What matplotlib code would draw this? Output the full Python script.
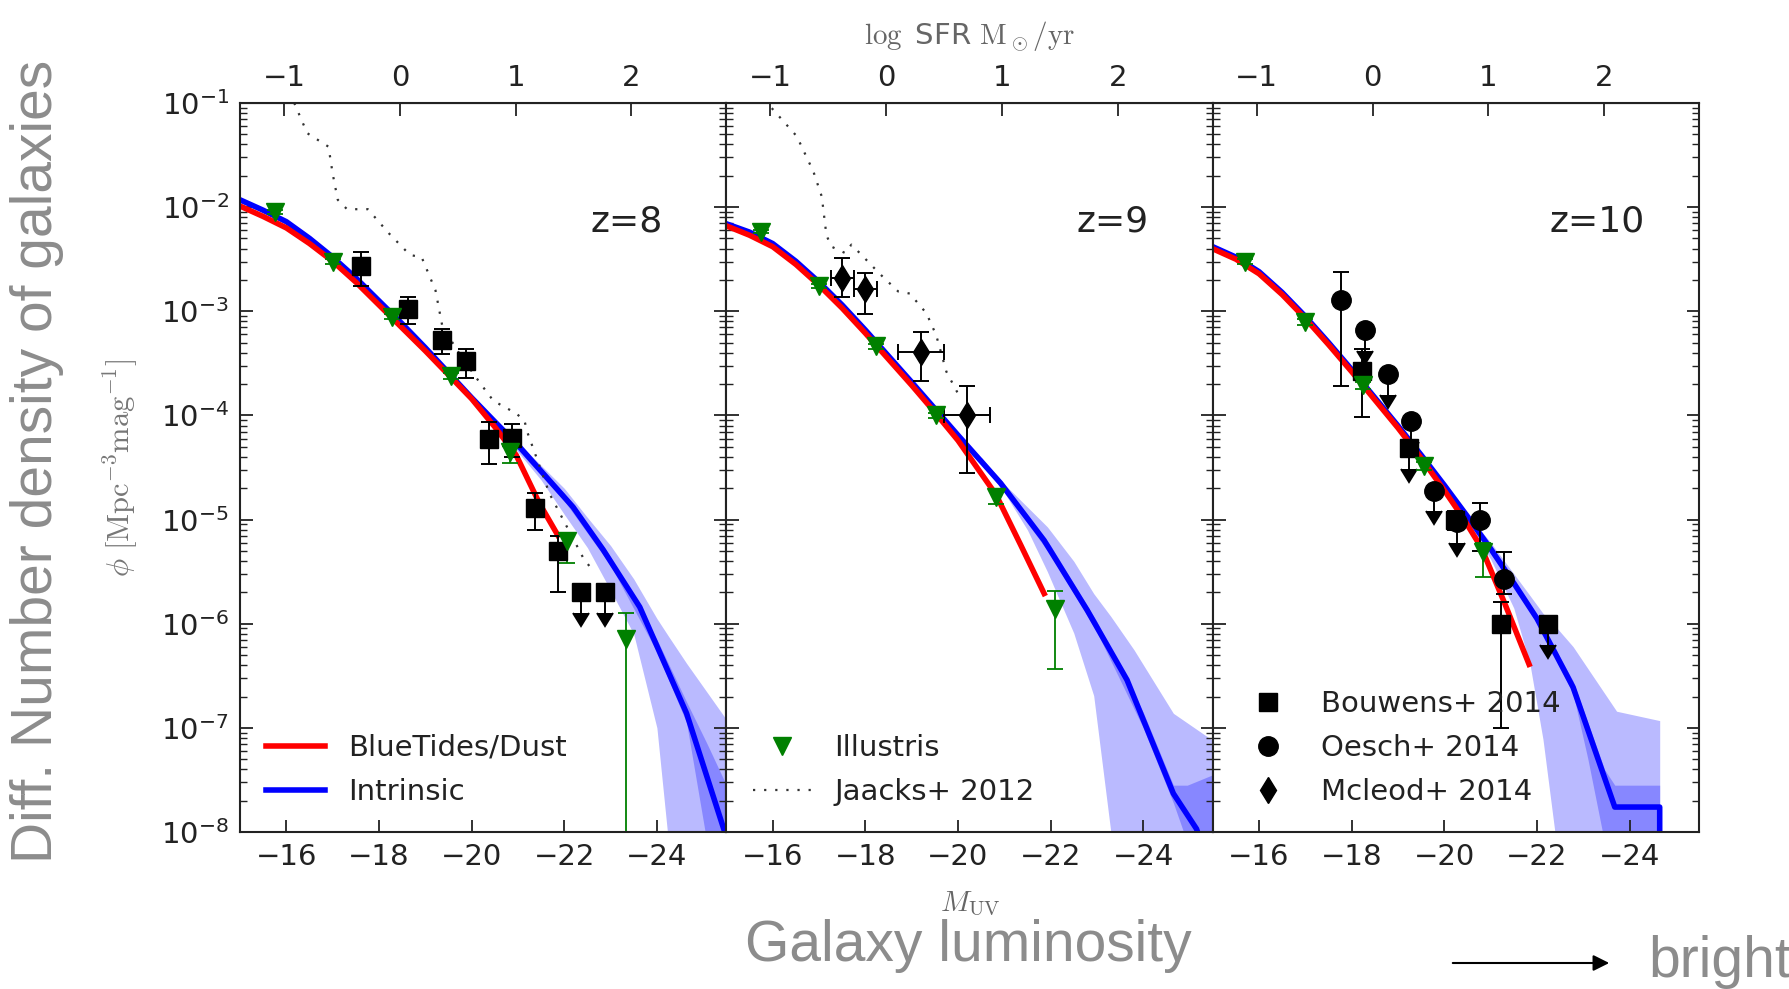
import numpy as np
import matplotlib
matplotlib.use('Agg')
import matplotlib.pyplot as plt
from matplotlib.lines import Line2D
from matplotlib.patches import FancyArrowPatch

plt.rcParams['mathtext.fontset'] = 'cm'
plt.rcParams['font.family'] = 'DejaVu Sans'

# ---------------- z = 8 ----------------
# model curves, log10(phi [Mpc^-3 mag^-1])
intr_m_z8 = [-15.0, -15.5, -16.0, -16.5, -17.0, -17.5, -18.0, -18.5, -19.0, -19.5, -20.0, -20.5,
             -21.03, -22.19, -22.84, -23.63, -24.64, -25.45]
intr_lp_z8 = [-1.93, -2.03, -2.14, -2.30, -2.48, -2.68, -2.90, -3.12, -3.35, -3.59, -3.83, -4.06,
              -4.30, -4.88, -5.29, -5.84, -6.86, -7.98]
dust_m_z8 = [-15.0, -15.5, -16.0, -16.5, -17.0, -17.5, -18.0, -18.5, -19.0, -19.5, -20.0, -20.5,
             -20.96, -21.47, -21.86]
dust_lp_z8 = [-1.99, -2.09, -2.20, -2.35, -2.52, -2.72, -2.94, -3.16, -3.38, -3.61, -3.84, -4.11,
              -4.38, -4.85, -5.15]
band_m_z8 = [-20.5, -21.0, -21.5, -22.0, -22.5, -23.0, -23.5, -24.0, -24.25, -24.64, -25.5]
band_hi_z8 = [-4.03, -4.26, -4.48, -4.70, -4.98, -5.25, -5.57, -5.95, -6.12, -6.38, -6.92]
band_lo_z8 = [-4.10, -4.35, -4.62, -4.95, -5.27, -5.68, -6.10, -7.00, -8.10, -9.0, -9.0]
inner_m_z8 = [-20.5, -21.0, -22.0, -23.0, -24.0, -24.64, -25.08, -25.5]
inner_hi_z8 = [-4.03, -4.27, -4.75, -5.36, -6.15, -6.75, -7.15, -7.55]
inner_lo_z8 = [-4.09, -4.33, -4.82, -5.44, -6.27, -6.95, -8.10, -9.0]
# Jaacks+ 2012
jaa_m_z8 = [-16.17, -16.45, -16.91, -17.0, -17.11, -17.31, -17.76, -18.21, -18.67, -18.92, -19.22,
            -19.37, -19.8, -20.2, -20.47, -20.96, -21.14, -21.21, -21.68, -22.40, -22.58]
jaa_lp_z8 = [-1.0, -1.29, -1.42, -1.68, -1.93, -2.02, -2.02, -2.25, -2.46, -2.48, -2.80,
             -3.15, -3.45, -3.70, -3.86, -3.98, -4.05, -4.17, -4.75, -5.36, -5.47]
# Illustris
ill_m_z8 = [-15.75, -17.0, -18.27, -19.55, -20.82, -22.06, -23.34]
ill_phi_z8 = [8.9e-3, 3.0e-3, 8.9e-4, 2.4e-4, 4.5e-5, 6.2e-6, 7.2e-7]
ill_elo_z8 = [4e-4, 1.5e-4, 5e-5, 1.5e-5, 1.0e-5, 2.4e-6, 7.2e-7]
ill_ehi_z8 = [4e-4, 1.5e-4, 5e-5, 1.5e-5, 0.6e-5, 1.2e-6, 5.4e-7]
# Bouwens+ 2014
bou_m_z8 = [-17.62, -18.62, -19.37, -19.87, -20.37, -20.87, -21.37, -21.87]
bou_phi_z8 = [2.74e-3, 1.06e-3, 5.33e-4, 3.31e-4, 6.0e-5, 6.1e-5, 1.3e-5, 5.0e-6]
bou_elo_z8 = [1.0e-3, 0.3e-3, 0.14e-3, 0.10e-3, 2.6e-5, 2.1e-5, 0.5e-5, 3.0e-6]
bou_ehi_z8 = [1.0e-3, 0.3e-3, 0.14e-3, 0.10e-3, 2.6e-5, 2.1e-5, 0.5e-5, 2.0e-6]
bou_ul_m_z8 = [-22.37, -22.87]
bou_ul_phi_z8 = [2.0e-6, 2.0e-6]

# ---------------- z = 9 ----------------
intr_m_z9 = [-15.0, -15.5, -16.0, -16.5, -17.0, -17.5, -18.0, -18.5, -19.0, -19.53, -20.0, -20.28,
             -20.92, -21.86, -22.79, -23.65, -24.65, -25.15, -25.4]
intr_lp_z9 = [-2.16, -2.24, -2.35, -2.52, -2.72, -2.94, -3.18, -3.43, -3.68, -3.95, -4.19, -4.33,
              -4.65, -5.20, -5.87, -6.54, -7.63, -7.97, -8.3]
dust_m_z9 = [-15.0, -15.5, -16.0, -16.5, -17.0, -17.5, -18.0, -18.5, -19.0, -19.5, -20.0, -20.82,
             -21.35, -21.86]
dust_lp_z9 = [-2.18, -2.27, -2.38, -2.55, -2.75, -2.97, -3.21, -3.46, -3.71, -3.97, -4.24, -4.76,
              -5.24, -5.71]
band_m_z9 = [-20.5, -21.0, -21.5, -21.93, -22.5, -22.93, -23.3, -23.8, -24.65, -25.5]
band_hi_z9 = [-4.40, -4.66, -4.88, -5.07, -5.40, -5.71, -5.93, -6.25, -6.86, -7.12]
band_lo_z9 = [-4.45, -4.74, -5.10, -5.50, -6.09, -6.69, -8.0, -9.0, -9.0, -9.0]
inner_m_z9 = [-20.5, -21.0, -22.0, -23.0, -24.0, -24.65, -24.95, -25.5]
inner_hi_z9 = [-4.41, -4.67, -5.25, -5.98, -6.85, -7.55, -7.55, -7.45]
inner_lo_z9 = [-4.47, -4.73, -5.34, -6.08, -7.0, -7.72, -8.10, -9.0]
jaa_m_z9 = [-15.98, -16.52, -16.88, -17.06, -17.16, -17.27, -17.56, -17.70, -17.92, -18.31,
            -18.71, -18.96, -19.32, -19.53, -19.75, -20.0]
jaa_lp_z9 = [-1.05, -1.32, -1.66, -1.90, -2.27, -2.38, -2.44, -2.36, -2.46, -2.64,
             -2.81, -2.83, -3.02, -3.23, -3.58, -3.79]
ill_m_z9 = [-15.75, -16.99, -18.24, -19.53, -20.82, -22.09]
ill_phi_z9 = [5.8e-3, 1.74e-3, 4.6e-4, 1.0e-4, 1.66e-5, 1.38e-6]
ill_elo_z9 = [2e-4, 8e-5, 2.5e-5, 6e-6, 2.5e-6, 1.01e-6]
ill_ehi_z9 = [2e-4, 8e-5, 2.5e-5, 6e-6, 2.5e-6, 0.66e-6]
# Mcleod+ 2014
mcl_m_z9 = [-17.5, -18.0, -19.2, -20.2]
mcl_dm_z9 = [0.25, 0.25, 0.5, 0.5]
mcl_phi_z9 = [2.1e-3, 1.62e-3, 4.1e-4, 1.0e-4]
mcl_elo_z9 = [0.72e-3, 0.67e-3, 1.96e-4, 0.72e-4]
mcl_ehi_z9 = [1.14e-3, 0.72e-3, 2.2e-4, 0.9e-4]

# ---------------- z = 10 ----------------
intr_m_z10 = [-15.0, -15.5, -16.0, -16.5, -17.0, -17.5, -18.0, -18.5, -19.0, -19.5, -20.0, -20.5,
              -21.0, -21.5, -22.0, -22.78, -23.68, -24.65, -24.65]
intr_lp_z10 = [-2.38, -2.48, -2.62, -2.82, -3.05, -3.30, -3.56, -3.83, -4.10, -4.38, -4.67, -4.97,
               -5.28, -5.61, -5.95, -6.61, -7.76, -7.76, -9.5]
dust_m_z10 = [-15.0, -15.5, -16.0, -16.5, -17.0, -17.5, -18.0, -18.5, -19.0, -19.5, -20.0, -20.4,
              -20.8, -21.3, -21.83]
dust_lp_z10 = [-2.40, -2.50, -2.64, -2.84, -3.07, -3.32, -3.58, -3.85, -4.12, -4.41, -4.72, -4.98,
               -5.27, -5.80, -6.39]
band_m_z10 = [-20.5, -21.0, -21.5, -21.85, -22.13, -22.39, -22.78, -23.72, -24.65]
band_hi_z10 = [-4.95, -5.22, -5.52, -5.73, -5.90, -6.02, -6.22, -6.84, -6.93]
band_lo_z10 = [-5.02, -5.38, -5.85, -6.39, -7.11, -8.01, -9.0, -9.0, -9.0]
inner_m_z10 = [-20.5, -21.0, -22.0, -22.78, -23.1, -23.46, -23.68, -24.65]
inner_hi_z10 = [-4.94, -5.25, -5.92, -6.55, -6.95, -7.40, -7.55, -7.55]
inner_lo_z10 = [-5.00, -5.31, -5.98, -6.67, -7.30, -8.10, -9.0, -9.0]
ill_m_z10 = [-15.70, -17.0, -18.25, -19.56, -20.84]
ill_phi_z10 = [3.0e-3, 7.9e-4, 1.95e-4, 3.3e-5, 4.9e-6]
ill_elo_z10 = [1.5e-4, 5e-5, 1.5e-5, 3e-6, 2.1e-6]
ill_ehi_z10 = [1.5e-4, 5e-5, 1.5e-5, 3e-6, 1.0e-6]
bou_m_z10 = [-18.23, -20.23, -21.23]
bou_phi_z10 = [2.66e-4, 1.0e-5, 1.0e-6]
bou_elo_z10 = [1.7e-4, 0.2e-5, 0.9e-6]
bou_ehi_z10 = [1.7e-4, 0.2e-5, 0.6e-6]
bou_ul_m_z10 = [-19.23, -22.23]
bou_ul_phi_z10 = [4.9e-5, 1.0e-6]
# Oesch+ 2014
oes_m_z10 = [-17.78, -20.78, -21.28]
oes_phi_z10 = [1.29e-3, 1.0e-5, 2.7e-6]
oes_elo_z10 = [1.1e-3, 0.5e-5, 0.75e-6]
oes_ehi_z10 = [1.1e-3, 0.45e-5, 2.2e-6]
oes_ul_m_z10 = [-18.28, -18.78, -19.28, -19.78, -20.28]
oes_ul_phi_z10 = [6.6e-4, 2.5e-4, 8.8e-5, 1.9e-5, 9.4e-6]

redshifts = [8, 9, 10]
mag_ticks = [-16, -18, -20, -22, -24]
sfr_ticks = [-1, 0, 1, 2]
uplim_dex = 0.2   # length of the upper-limit arrows

panels = {
    8: dict(intr=(intr_m_z8, intr_lp_z8), dust=(dust_m_z8, dust_lp_z8),
            band=(band_m_z8, band_lo_z8, band_hi_z8), inner=(inner_m_z8, inner_lo_z8, inner_hi_z8),
            jaacks=(jaa_m_z8, jaa_lp_z8), ill=(ill_m_z8, ill_phi_z8, ill_elo_z8, ill_ehi_z8),
            bou=(bou_m_z8, bou_phi_z8, bou_elo_z8, bou_ehi_z8), bou_ul=(bou_ul_m_z8, bou_ul_phi_z8)),
    9: dict(intr=(intr_m_z9, intr_lp_z9), dust=(dust_m_z9, dust_lp_z9),
            band=(band_m_z9, band_lo_z9, band_hi_z9), inner=(inner_m_z9, inner_lo_z9, inner_hi_z9),
            jaacks=(jaa_m_z9, jaa_lp_z9), ill=(ill_m_z9, ill_phi_z9, ill_elo_z9, ill_ehi_z9),
            mcl=(mcl_m_z9, mcl_dm_z9, mcl_phi_z9, mcl_elo_z9, mcl_ehi_z9)),
    10: dict(intr=(intr_m_z10, intr_lp_z10), dust=(dust_m_z10, dust_lp_z10),
             band=(band_m_z10, band_lo_z10, band_hi_z10), inner=(inner_m_z10, inner_lo_z10, inner_hi_z10),
             ill=(ill_m_z10, ill_phi_z10, ill_elo_z10, ill_ehi_z10),
             bou=(bou_m_z10, bou_phi_z10, bou_elo_z10, bou_ehi_z10), bou_ul=(bou_ul_m_z10, bou_ul_phi_z10),
             oes=(oes_m_z10, oes_phi_z10, oes_elo_z10, oes_ehi_z10), oes_ul=(oes_ul_m_z10, oes_ul_phi_z10)),
}
z_label_x = {8: 0.72, 9: 0.72, 10: 0.693}


def m_to_sfr(m):
    return -(np.asarray(m) + 18.45) / 2.5


def sfr_to_m(s):
    return -2.5 * np.asarray(s) - 18.45


def upper_limits(ax, m, phi, marker, ms):
    phi = np.array(phi)
    ax.errorbar(m, phi, yerr=[phi * (1 - 10**-uplim_dex), np.zeros_like(phi)], uplims=True,
                fmt=marker, color='k', ms=ms, ecolor='k', elinewidth=1.4, capsize=6, capthick=1.4)


TXT = '#222222'
dotted = (0, (1, 4))
LW = 4.0

fig, axes = plt.subplots(1, 3, sharey=True, figsize=(17.9, 9.89), dpi=100)
fig.subplots_adjust(left=0.1341, right=0.9492, bottom=0.1587, top=0.8959, wspace=0)

for ax, z in zip(axes, redshifts):
    d = panels[z]
    ax.set_yscale('log')

    m, lo, hi = d['band']
    ax.fill_between(m, 10**np.array(lo), 10**np.array(hi), color='blue', alpha=0.27, lw=0)
    m, lo, hi = d['inner']
    ax.fill_between(m, 10**np.array(lo), 10**np.array(hi), color='blue', alpha=0.27, lw=0)

    m, lp = d['intr']
    ax.plot(m, 10**np.array(lp), color='blue', lw=LW)
    m, lp = d['dust']
    ax.plot(m, 10**np.array(lp), color='red', lw=LW)
    if 'jaacks' in d:
        m, lp = d['jaacks']
        ax.plot(m, 10**np.array(lp), color='#333333', lw=1.6, ls=dotted)

    if 'bou' in d:
        m, phi, elo, ehi = d['bou']
        ax.errorbar(m, phi, yerr=[elo, ehi], fmt='s', color='k', ms=13, ecolor='k',
                    elinewidth=1.4, capsize=6, capthick=1.4)
        upper_limits(ax, *d['bou_ul'], 's', 13)
    if 'oes' in d:
        m, phi, elo, ehi = d['oes']
        ax.errorbar(m, phi, yerr=[elo, ehi], fmt='o', color='k', ms=14, ecolor='k',
                    elinewidth=1.4, capsize=6, capthick=1.4)
        upper_limits(ax, *d['oes_ul'], 'o', 14)
    if 'mcl' in d:
        m, dm, phi, elo, ehi = d['mcl']
        ax.errorbar(m, phi, xerr=dm, yerr=[elo, ehi], fmt='d', color='k', ms=13, ecolor='k',
                    elinewidth=1.4, capsize=6, capthick=1.4)

    m, phi, elo, ehi = d['ill']
    ax.errorbar(m, phi, yerr=[elo, ehi], fmt='v', color='green', ms=13, ecolor='green',
                elinewidth=1.3, capsize=6, capthick=1.3)

    ax.set_xlim(-15, -25.5)
    ax.set_ylim(1e-8, 1e-1)
    ax.set_xticks(mag_ticks)
    ax.tick_params(which='both', direction='in', top=False, right=True, labelsize=21,
                   labelcolor=TXT, pad=8, color='#222222')
    ax.tick_params(which='major', length=9, width=1.3)
    ax.tick_params(which='minor', length=5, width=1.0)
    for sp in ax.spines.values():
        sp.set_linewidth(1.5)
        sp.set_color('#222222')

    sec = ax.secondary_xaxis('top', functions=(m_to_sfr, sfr_to_m))
    sec.set_xticks(sfr_ticks)
    sec.tick_params(direction='in', length=9, width=1.3, labelsize=21, labelcolor=TXT, pad=8,
                    color='#222222')
    if z == 9:
        sec.set_xlabel(r'$\log$ SFR $\mathrm{M_\odot/yr}$', fontsize=21, color='#666666', labelpad=14)

    ax.text(z_label_x[z], 0.8235, 'z=%d' % z, transform=ax.transAxes, fontsize=26,
            ha='left', va='baseline', color=TXT)

leg_kw = dict(loc='lower left', frameon=False, fontsize=21, handlelength=2.0, handletextpad=0.8,
              labelspacing=0.55, borderaxespad=0.5, numpoints=1, labelcolor=TXT)
axes[0].legend([Line2D([], [], color='red', lw=LW), Line2D([], [], color='blue', lw=LW)],
               ['BlueTides/Dust', 'Intrinsic'], **leg_kw)
axes[1].legend([Line2D([], [], color='green', marker='v', ms=13, ls='none'),
                Line2D([], [], color='#333333', lw=1.6, ls=dotted)],
               ['Illustris', 'Jaacks+ 2012'], **leg_kw)
axes[2].legend([Line2D([], [], color='k', marker='s', ms=13, ls='none'),
                Line2D([], [], color='k', marker='o', ms=14, ls='none'),
                Line2D([], [], color='k', marker='d', ms=13, ls='none')],
               ['Bouwens+ 2014', 'Oesch+ 2014', 'Mcleod+ 2014'], **leg_kw)

# axis titles of the original plot
fig.text(0.0676, 0.527, r'$\phi\ [\mathrm{Mpc^{-3}mag^{-1}}]$', rotation=90, ha='center', va='center',
         fontsize=22, color='#777777')
fig.text(0.542, 0.086, r'$M_{\rm UV}$', ha='center', va='center', fontsize=21, color='#666666')

# slide annotations
GREY = '#8c8c8c'
fig.text(0.0207, 0.533, 'Diff. Number density of galaxies', rotation=90, ha='center', va='center',
         fontsize=41, color=GREY, family='Liberation Sans')
fig.text(0.541, 0.0283, 'Galaxy luminosity', ha='center', va='baseline', fontsize=41, color=GREY,
         family='Liberation Sans')
fig.text(0.9207, 0.0121, 'bright', ha='left', va='baseline', fontsize=41, color=GREY,
         family='Liberation Sans')
fig.add_artist(FancyArrowPatch((1450 / 1790, 1 - 963 / 989), (1612 / 1790, 1 - 963 / 989),
                               transform=fig.transFigure, arrowstyle='-|>', mutation_scale=24,
                               lw=1.5, color='black'))

fig.savefig('out.png', dpi=100)
